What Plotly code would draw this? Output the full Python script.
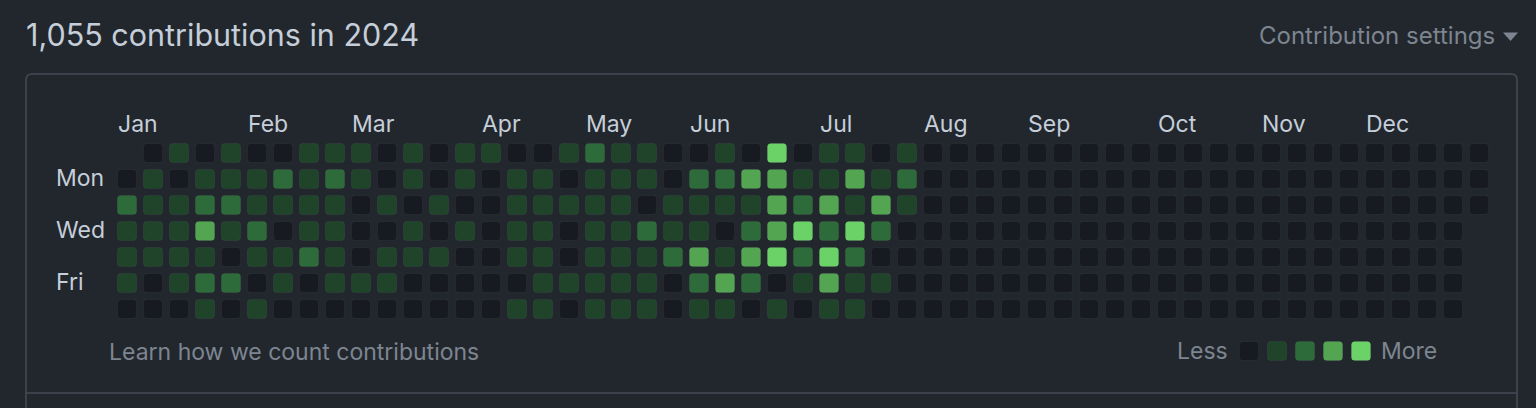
import plotly.graph_objects as go

# ---------------- data ----------------
year_title = "1,055 contributions in 2024"
months = ["Jan", "Feb", "Mar", "Apr", "May", "Jun", "Jul", "Aug", "Sep", "Oct", "Nov", "Dec"]
month_week = [0, 5, 9, 14, 18, 22, 27, 31, 35, 40, 44, 48]
day_labels = ["Mon", "Wed", "Fri"]
day_label_rows = [1, 3, 5]

N = None
Z22 = [0] * 22
Z21 = [0] * 21
# contribution level (0-4) for each week column, one list per weekday
sun = [N, 0, 1, 0, 1, 0, 0, 1, 1, 1, 0, 1, 0, 1, 1, 0, 0, 1, 2, 1, 1, 0, 0, 1, 0, 4, 0, 1, 1, 0, 1] + Z22
mon = [0, 1, 0, 1, 1, 1, 2, 1, 2, 1, 0, 1, 0, 1, 0, 1, 1, 0, 1, 1, 1, 0, 2, 2, 3, 3, 1, 1, 3, 1, 2] + Z22
tue = [2, 1, 1, 2, 2, 1, 1, 1, 1, 0, 1, 0, 1, 0, 0, 1, 1, 1, 1, 1, 0, 1, 1, 1, 1, 3, 2, 3, 1, 3, 1] + Z22
wed = [1, 1, 1, 3, 1, 2, 0, 1, 1, 0, 0, 1, 0, 1, 0, 1, 1, 0, 1, 1, 2, 1, 1, 0, 2, 3, 4, 2, 4, 2, 0] + Z21 + [N]
thu = [1, 1, 1, 1, 0, 1, 1, 2, 1, 0, 1, 1, 1, 0, 0, 1, 1, 0, 1, 1, 1, 2, 3, 1, 3, 4, 2, 4, 2, 0, 0] + Z21 + [N]
fri = [1, 0, 1, 2, 2, 0, 1, 0, 1, 1, 1, 0, 0, 0, 0, 0, 1, 1, 1, 1, 1, 0, 2, 3, 2, 0, 1, 3, 1, 1, 0] + Z21 + [N]
sat = [0, 0, 0, 1, 0, 1, 0, 0, 0, 0, 0, 0, 0, 0, 0, 1, 1, 0, 1, 1, 1, 0, 1, 1, 0, 1, 0, 1, 1, 0, 0] + Z21 + [N]
week_rows = [sun, mon, tue, wed, thu, fri, sat]

legend_levels = [0, 1, 2, 3, 4]

# ---------------- style ----------------
W, H = 1536, 408
X0, Y0, P = 127, 153, 26          # pixel centre of first cell, cell pitch
BG = "#22272e"
FG = "#c5ced9"
MUTED = "#7d8590"
BORDER = "#444c56"
LEVEL_COLORS = ["#171a21", "#1f442a", "#2e6b3a", "#53a552", "#6bd267"]
FONT = "Inter, Roboto, sans-serif"
SMALL = 23

HALF = 9.6 / P
RAD = 3.5 / P


def rrect(cx, cy, h, r):
    x0, x1, y0, y1 = cx - h, cx + h, cy - h, cy + h
    return (f"M {x0 + r},{y0} L {x1 - r},{y0} Q {x1},{y0} {x1},{y0 + r} "
            f"L {x1},{y1 - r} Q {x1},{y1} {x1 - r},{y1} L {x0 + r},{y1} "
            f"Q {x0},{y1} {x0},{y1 - r} L {x0},{y0 + r} Q {x0},{y0} {x0 + r},{y0} Z")


def px(x):
    return x / W


def py(y):
    return 1 - y / H


shapes = []
hx, hy, ht = [], [], []
for r, row in enumerate(week_rows):
    for c, lv in enumerate(row):
        if lv is None:
            continue
        shapes.append(dict(type="path", xref="x", yref="y", path=rrect(c, r, HALF, RAD),
                           fillcolor=LEVEL_COLORS[lv],
                           line=dict(color="rgba(255,255,255,0.05)", width=1), layer="above"))
        hx.append(c)
        hy.append(r)
        ht.append(f"week {c + 1}, level {lv}")

# legend swatches (positioned in the same cell units)
LEG_X0 = (1249 - X0) / P
LEG_STEP = 28 / P
LEG_Y = (351 - Y0) / P
for i, lv in enumerate(legend_levels):
    shapes.append(dict(type="path", xref="x", yref="y",
                       path=rrect(LEG_X0 + i * LEG_STEP, LEG_Y, HALF, RAD),
                       fillcolor=LEVEL_COLORS[lv],
                       line=dict(color="rgba(255,255,255,0.05)", width=1), layer="above"))

# frame of the box
bx0, bx1, by0, rr = 26, 1517, 74, 6
frame = (f"M {px(bx0)},{py(H + 2)} L {px(bx0)},{py(by0 + rr)} Q {px(bx0)},{py(by0)} {px(bx0 + rr)},{py(by0)} "
         f"L {px(bx1 - rr)},{py(by0)} Q {px(bx1)},{py(by0)} {px(bx1)},{py(by0 + rr)} L {px(bx1)},{py(H + 2)}")
shapes.append(dict(type="path", xref="paper", yref="paper", path=frame,
                   line=dict(color=BORDER, width=1.5), layer="below"))
shapes.append(dict(type="line", xref="paper", yref="paper", x0=px(bx0), x1=px(bx1),
                   y0=py(393), y1=py(393), line=dict(color=BORDER, width=1.5), layer="below"))
# dropdown caret
shapes.append(dict(type="path", xref="paper", yref="paper",
                   path=f"M {px(1503)},{py(32.5)} L {px(1518)},{py(32.5)} L {px(1510.5)},{py(41)} Z",
                   fillcolor=MUTED, line=dict(width=0)))

annotations = []
annotations.append(dict(text=year_title, xref="paper", yref="paper", x=px(23.5), y=py(34.5),
                        xanchor="left", yanchor="middle", showarrow=False,
                        font=dict(family=FONT, size=30.5, color=FG)))
annotations.append(dict(text="Contribution settings", xref="paper", yref="paper", x=px(1497), y=py(35.5),
                        xanchor="right", yanchor="middle", showarrow=False,
                        font=dict(family=FONT, size=24, color=MUTED)))
for m, wk in zip(months, month_week):
    annotations.append(dict(text=m, xref="x", yref="y", x=wk - 11.5 / P, y=(123.5 - Y0) / P,
                            xanchor="left", yanchor="middle", showarrow=False,
                            font=dict(family=FONT, size=SMALL, color=FG)))
for d, rw in zip(day_labels, day_label_rows):
    annotations.append(dict(text=d, xref="x", yref="y", x=(54 - X0) / P, y=rw - 1.3 / P,
                            xanchor="left", yanchor="middle", showarrow=False,
                            font=dict(family=FONT, size=SMALL, color=FG)))
annotations.append(dict(text="Learn how we count contributions", xref="paper", yref="paper",
                        x=px(106.5), y=py(351.7), xanchor="left", yanchor="middle", showarrow=False,
                        font=dict(family=FONT, size=SMALL, color=MUTED)))
annotations.append(dict(text="Less", xref="x", yref="y", x=LEG_X0 - 19 / P, y=LEG_Y + 0.3 / P,
                        xanchor="right", yanchor="middle", showarrow=False,
                        font=dict(family=FONT, size=SMALL, color=MUTED)))
annotations.append(dict(text="More", xref="x", yref="y", x=LEG_X0 + 4 * LEG_STEP + 18 / P, y=LEG_Y + 0.3 / P,
                        xanchor="left", yanchor="middle", showarrow=False,
                        font=dict(family=FONT, size=SMALL, color=MUTED)))

fig = go.Figure()
fig.add_trace(go.Scatter(x=hx, y=hy, mode="markers", text=ht, hoverinfo="text",
                         marker=dict(symbol="square", size=20, color="rgba(0,0,0,0)")))

fig.update_layout(
    width=W, height=H, margin=dict(l=0, r=0, t=0, b=0),
    paper_bgcolor=BG, plot_bgcolor=BG, showlegend=False,
    xaxis=dict(range=[-X0 / P, (W - X0) / P], domain=[0, 1], visible=False, fixedrange=True),
    yaxis=dict(range=[(H - Y0) / P, -Y0 / P], domain=[0, 1], visible=False, fixedrange=True),
    shapes=shapes, annotations=annotations,
)

fig.write_html("out.html", config={"displayModeBar": False},
               post_script="document.body.style.margin='0';document.body.style.padding='0';"
                           "document.body.style.background='#22272e';document.body.style.overflow='hidden';")
